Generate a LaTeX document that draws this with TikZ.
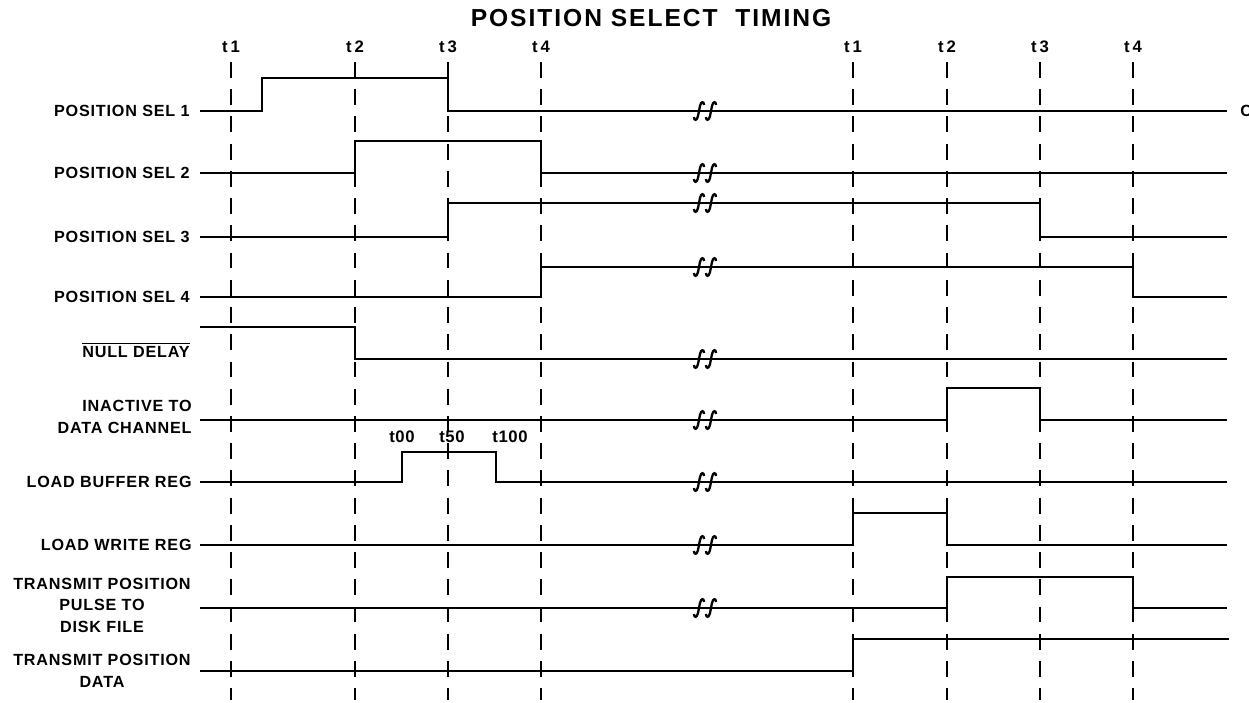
\documentclass[tikz,border=0pt]{standalone}
\usepackage{fontspec}
\setmainfont{Liberation Sans}

\begin{document}
\begin{tikzpicture}[x=0.02cm,y=-0.02cm,
	sig/.style={line width=1.3pt},
	tick/.style={line width=1.1pt,dash pattern=on 9pt off 6.5pt},
	lbl/.style={font=\bfseries\fontsize{9.2}{12.2}\selectfont\addfontfeatures{LetterSpace=5},inner sep=0pt,anchor=east},
	tlbl/.style={font=\bfseries\fontsize{9.5}{11}\selectfont\addfontfeatures{LetterSpace=4},inner sep=0pt},
	brk/.pic={\foreach \d in {-6,6}
		\draw[line width=1.3pt] (\d-5,6) .. controls (\d-5,10) and (\d-2,10) .. (\d-1,5) -- (\d+1,-5) .. controls (\d+2,-10) and (\d+5,-10) .. (\d+5,-6);}]
	\useasboundingbox (0,0) rectangle (1249,703);
	\node[inner sep=0pt,font=\bfseries\fontsize{14}{16}\selectfont\addfontfeatures{LetterSpace=8}] (title) at (651,18) {POSITION SELECT\ \ TIMING};
	% time marks
	\foreach \x/\t in {231/t\,1,355/t\,2,448/t\,3,541/t\,4,853/t\,1,947/t\,2,1040/t\,3,1133/t\,4}{
		\node[tlbl] (t\x) at (\x,47) {\t};
		\draw[tick] (\x,62) -- (\x,700);
	}
	\node[tlbl] (t00) at (402,437) {t00};
	\node[tlbl] (t50) at (452,437) {t50};
	\node[tlbl] (t100) at (510,437) {t100};
	% signal names
	\node[lbl] (sel1) at (190,111) {POSITION SEL 1};
	\node[lbl] (sel2) at (190,173) {POSITION SEL 2};
	\node[lbl] (sel3) at (190,237) {POSITION SEL 3};
	\node[lbl] (sel4) at (190,297) {POSITION SEL 4};
	\node[lbl] (nul) at (190,350) {$\overline{\hbox{NULL DELAY}}$};
	\node[lbl,align=right] (inact) at (192,417) {INACTIVE TO\\DATA CHANNEL};
	\node[lbl] (lbuf) at (192,482) {LOAD BUFFER REG};
	\node[lbl] (lwr) at (192,545) {LOAD WRITE REG};
	\node[lbl,align=center] (tpp) at (191,605) {TRANSMIT POSITION\\PULSE TO\\DISK FILE};
	\node[lbl,align=center] (tpd) at (191,671) {TRANSMIT POSITION\\DATA};
	\node[lbl,anchor=west] (cut) at (1240,111) {C};
	% waveforms
	\draw[sig] (200,111) -| (262,78) -| (448,111) -- (1227,111);
	\draw[sig] (200,173) -| (355,141) -| (541,173) -- (1227,173);
	\draw[sig] (200,237) -| (448,203) -| (1040,237) -- (1227,237);
	\draw[sig] (200,297) -| (541,267) -| (1133,297) -- (1227,297);
	\draw[sig] (200,327) -| (355,359) -- (1227,359);
	\draw[sig] (200,420) -| (947,388) -| (1040,420) -- (1227,420);
	\draw[sig] (200,482) -| (402,452) -| (496,482) -- (1227,482);
	\draw[sig] (200,545) -| (853,513) -| (947,545) -- (1227,545);
	\draw[sig] (200,608) -| (947,577) -| (1133,608) -- (1227,608);
	\draw[sig] (200,671) -| (853,639) -- (1229,639);
	% breaks
	\foreach \y in {111,173,203,267,359,420,482,545,608}
		\pic at (705,\y) {brk};
\end{tikzpicture}
\end{document}
